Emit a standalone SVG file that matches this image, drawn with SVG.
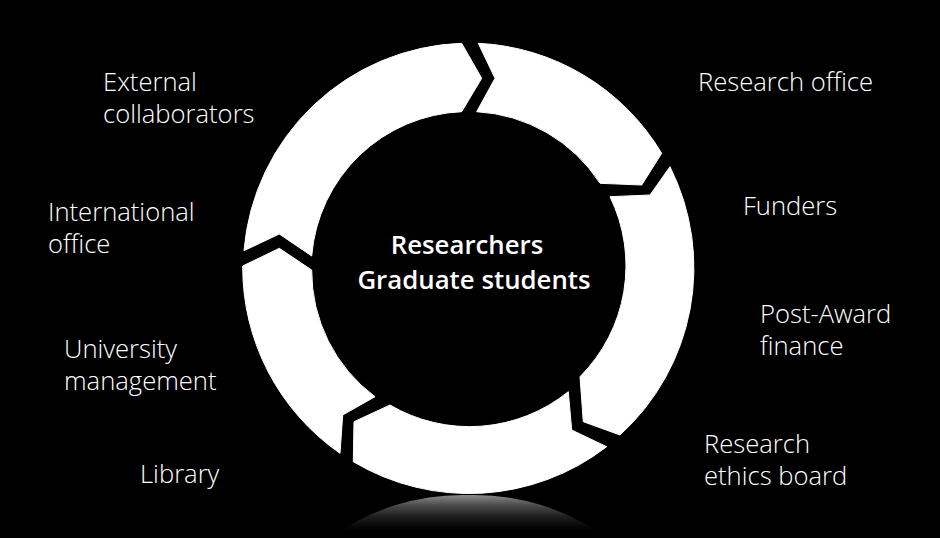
<svg xmlns="http://www.w3.org/2000/svg" width="940" height="538" viewBox="0 0 940 538">
<style>
.seg{fill:#ffffff;stroke:#ffffff;stroke-width:1;stroke-linejoin:round}
.lbl{font-family:"Open Sans","Liberation Sans",sans-serif;font-weight:300;font-size:25.6px;fill:#ffffff}
.ctr{font-family:"Open Sans","Liberation Sans",sans-serif;font-weight:600;font-size:25.8px;fill:#ffffff;text-anchor:middle}
</style>
<defs>
<linearGradient id="refl" x1="0" y1="495" x2="0" y2="530" gradientUnits="userSpaceOnUse">
<stop offset="0" stop-color="#8a8a8a"/>
<stop offset="0.3" stop-color="#4a4a4a"/>
<stop offset="0.65" stop-color="#1a1a1a"/>
<stop offset="1" stop-color="#000000"/>
</linearGradient>
</defs>
<rect x="0" y="0" width="940" height="538" fill="#000000"/>
<path id="reflection" d="M 330,538 A 226 226 0 0 1 468.5,495 A 226 226 0 0 1 607,538 Z" fill="url(#refl)"/>
<g id="ring">
<g id="seg-top-right"><path class="seg" d="M 478.3,43.3 A 226 226 0 0 1 661.7,153.3 L 641.7,185 L 600,183.3 A 157 157 0 0 0 476.7,111.7 L 495,78.3 Z"/></g>
<g id="seg-right"><path class="seg" d="M 670,166.7 A 226 226 0 0 1 620,435 L 583.3,421.7 L 580,376.7 A 157 157 0 0 0 610,196.7 L 650,195 Z"/></g>
<g id="seg-bottom"><path class="seg" d="M 606.7,446.7 A 226 226 0 0 1 353.3,461.7 L 354,421.7 L 390,405 A 157 157 0 0 0 568.3,391.7 L 571.7,430 Z"/></g>
<g id="seg-left"><path class="seg" d="M 340,453.3 A 226 226 0 0 1 242.7,266 L 279.3,248.3 L 311.7,270 A 157 157 0 0 0 375,396.7 L 342.7,415 Z"/></g>
<g id="seg-top-left"><path class="seg" d="M 244,250.7 A 226 226 0 0 1 461.7,43.3 L 481.7,78.3 L 461.7,111.7 A 157 157 0 0 0 311.7,256 L 279.3,234 Z"/></g>
</g>
<g id="center">
<text class="ctr"><tspan x="467" y="254">Researchers</tspan><tspan x="474" y="289">Graduate students</tspan></text>
</g>
<g id="external"><text class="lbl"><tspan x="103" y="91">External</tspan><tspan x="103" y="123">collaborators</tspan></text></g>
<g id="international"><text class="lbl"><tspan x="48" y="221">International</tspan><tspan x="48" y="253">office</tspan></text></g>
<g id="university"><text class="lbl"><tspan x="64" y="358">University</tspan><tspan x="64" y="390">management</tspan></text></g>
<g id="library"><text class="lbl" x="140" y="483">Library</text></g>
<g id="research-office"><text class="lbl" x="698" y="91">Research office</text></g>
<g id="funders"><text class="lbl" x="743" y="215">Funders</text></g>
<g id="post-award"><text class="lbl"><tspan x="760" y="323">Post-Award</tspan><tspan x="760" y="355">finance</tspan></text></g>
<g id="ethics"><text class="lbl"><tspan x="704" y="453">Research</tspan><tspan x="704" y="485">ethics board</tspan></text></g>
</svg>
